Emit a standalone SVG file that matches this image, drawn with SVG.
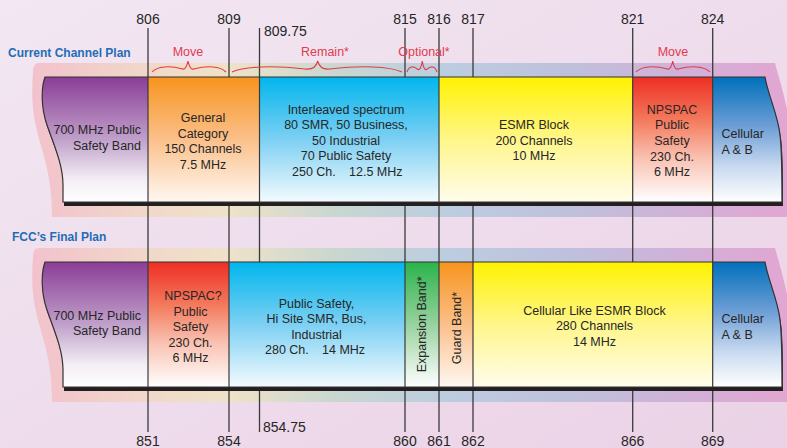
<svg xmlns="http://www.w3.org/2000/svg" xmlns:xlink="http://www.w3.org/1999/xlink" width="787" height="448" viewBox="0 0 787 448">
<style>
.t{font-family:"Liberation Sans",Arial,sans-serif;font-size:12.5px;fill:#262626}
.m{text-anchor:middle}
.e{text-anchor:end}
.num{font-family:"Liberation Sans",Arial,sans-serif;font-size:14px;fill:#262626}
.plan{font-family:"Liberation Sans",Arial,sans-serif;font-size:12px;font-weight:bold;fill:#1f6db5}
.red{font-family:"Liberation Sans",Arial,sans-serif;font-size:12.5px;fill:#e23a4f;text-anchor:middle}
.brace{fill:none;stroke:#e23a4b;stroke-width:1.1}
.tick{stroke:#3a3a3a;stroke-width:1.3}
.div{stroke:#3a3a3a;stroke-width:1.2}
.outline{fill:none;stroke:#333;stroke-width:1.2}
.shadow{fill:#231f20}
</style>
<defs>
<linearGradient id="bg" x1="0" y1="0" x2="1" y2="1">
<stop offset="0" stop-color="#f2e7f2"/><stop offset="1" stop-color="#ebd2e6"/>
</linearGradient>
<linearGradient id="halo" gradientUnits="userSpaceOnUse" x1="33" y1="0" x2="787" y2="0">
<stop offset="0" stop-color="#f2c2cc"/>
<stop offset="0.16" stop-color="#f1d9c9"/>
<stop offset="0.26" stop-color="#efe2c8"/>
<stop offset="0.4" stop-color="#c9d7d0"/>
<stop offset="0.55" stop-color="#bccde0"/>
<stop offset="0.72" stop-color="#bfc0dc"/>
<stop offset="0.85" stop-color="#cfb2d8"/>
<stop offset="1" stop-color="#e2a6d2"/>
</linearGradient>
<linearGradient id="gPurple" x1="0" y1="0" x2="0" y2="1"><stop offset="0" stop-color="#8b3d96"/><stop offset="0.5" stop-color="#c0a0ca"/><stop offset="0.82" stop-color="#f3eef4"/><stop offset="1" stop-color="#fff"/></linearGradient>
<linearGradient id="gOrange" x1="0" y1="0" x2="0" y2="1"><stop offset="0" stop-color="#f7941d"/><stop offset="0.5" stop-color="#fbc08a"/><stop offset="1" stop-color="#fff8f2"/></linearGradient>
<linearGradient id="gBlue" x1="0" y1="0" x2="0" y2="1"><stop offset="0" stop-color="#00b6ed"/><stop offset="0.5" stop-color="#7dd0f3"/><stop offset="1" stop-color="#f4fbfe"/></linearGradient>
<linearGradient id="gYellow" x1="0" y1="0" x2="0" y2="1"><stop offset="0" stop-color="#fff200"/><stop offset="0.5" stop-color="#fff68a"/><stop offset="1" stop-color="#fffcec"/></linearGradient>
<linearGradient id="gRed" x1="0" y1="0" x2="0" y2="1"><stop offset="0" stop-color="#ee2e24"/><stop offset="0.35" stop-color="#f47b5e"/><stop offset="0.65" stop-color="#f9c2b2"/><stop offset="1" stop-color="#fff"/></linearGradient>
<linearGradient id="gCell" x1="0" y1="0" x2="0" y2="1"><stop offset="0" stop-color="#0070bb"/><stop offset="0.4" stop-color="#6f9fd6"/><stop offset="0.72" stop-color="#c9daf0"/><stop offset="1" stop-color="#fff"/></linearGradient>
<linearGradient id="gGreen" x1="0" y1="0" x2="0" y2="1"><stop offset="0" stop-color="#2bb34b"/><stop offset="0.5" stop-color="#98d29f"/><stop offset="1" stop-color="#fff"/></linearGradient>
<path id="bandShape" d="M45,77 L765,77 C768,95 778,115 780,135 C782,150 782,170 782,202 L63,202 L63,185 C63,165 54,145 47,125 C41,108 41,88 45,77 Z"/>
<path id="haloShape" d="M39,63 L775,63 C778,75 785,95 790,125 L790,217 L52,217 C52,180 45,160 38,135 C33,115 31,100 33,72 Q33,63 39,63 Z"/>
<path id="purpleShape" d="M45,77 L148,77 L148,202 L63,202 L63,185 C63,165 54,145 47,125 C41,108 41,88 45,77 Z"/>
<path id="cellShape" d="M712.7,77 L765,77 C768,95 778,115 780,135 C782,150 782,170 782,202 L712.7,202 Z"/>
</defs>

<rect x="0" y="0" width="787" height="448" fill="url(#bg)"/>

<g id="halos">
<use href="#haloShape" fill="url(#halo)"/>
<use href="#haloShape" fill="url(#halo)" transform="translate(0,185)"/>
</g>

<g id="connectors">
<line class="tick" x1="148" y1="28" x2="148" y2="432"/>
<line class="tick" x1="229" y1="28" x2="229" y2="432"/>
<line class="tick" x1="259.5" y1="28" x2="259.5" y2="432"/>
<line class="tick" x1="405" y1="28" x2="405" y2="432"/>
<line class="tick" x1="439" y1="28" x2="439" y2="432"/>
<line class="tick" x1="473" y1="28" x2="473" y2="432"/>
<line class="tick" x1="632.7" y1="28" x2="632.7" y2="432"/>
<line class="tick" x1="712.7" y1="28" x2="712.7" y2="432"/>
</g>

<g id="current-plan">
<use href="#bandShape" class="shadow" transform="translate(1,4)"/>
<g id="c-700"><use href="#purpleShape" fill="url(#gPurple)"/>
<text class="t e" x="141" y="134">700 MHz Public</text><text class="t e" x="141" y="149.5">Safety Band</text></g>
<g id="c-general"><rect x="148" y="77" width="111.5" height="125" fill="url(#gOrange)"/>
<text class="t m" x="203" y="121.5">General</text><text class="t m" x="203" y="137.5">Category</text><text class="t m" x="203" y="153">150 Channels</text><text class="t m" x="203" y="168.5">7.5 MHz</text></g>
<g id="c-interleaved"><rect x="259.5" y="77" width="179.5" height="125" fill="url(#gBlue)"/>
<text class="t m" x="346" y="113.5">Interleaved spectrum</text><text class="t m" x="346" y="129">80 SMR, 50 Business,</text><text class="t m" x="346" y="144.5">50 Industrial</text><text class="t m" x="346" y="160">70 Public Safety</text><text class="t" x="292" y="175.5">250 Ch.<tspan x="349">12.5 MHz</tspan></text></g>
<g id="c-esmr"><rect x="439" y="77" width="193.7" height="125" fill="url(#gYellow)"/>
<text class="t m" x="534" y="128.5">ESMR Block</text><text class="t m" x="534" y="144.5">200 Channels</text><text class="t m" x="534" y="160">10 MHz</text></g>
<g id="c-npspac"><rect x="632.7" y="77" width="80" height="125" fill="url(#gRed)"/>
<text class="t m" x="672" y="113.5">NPSPAC</text><text class="t m" x="672" y="129">Public</text><text class="t m" x="672" y="145">Safety</text><text class="t m" x="672" y="160.5">230 Ch.</text><text class="t m" x="672" y="176">6 MHz</text></g>
<g id="c-cellular"><use href="#cellShape" fill="url(#gCell)"/>
<text class="t" x="721.5" y="137.5">Cellular</text><text class="t" x="721.5" y="153.5">A &amp; B</text></g>
<use href="#bandShape" class="outline"/>
<line class="div" x1="148" y1="77" x2="148" y2="202"/>
<line class="div" x1="259.5" y1="77" x2="259.5" y2="202"/>
<line class="div" x1="439" y1="77" x2="439" y2="202"/>
<line class="div" x1="632.7" y1="77" x2="632.7" y2="202"/>
<line class="div" x1="712.7" y1="77" x2="712.7" y2="202"/>
</g>

<g id="final-plan">
<use href="#bandShape" class="shadow" transform="translate(1,189)"/>
<g id="f-700"><use href="#purpleShape" fill="url(#gPurple)" transform="translate(0,185)"/>
<text class="t e" x="141" y="319.5">700 MHz Public</text><text class="t e" x="141" y="335">Safety Band</text></g>
<g id="f-npspac"><rect x="148" y="262" width="81" height="125" fill="url(#gRed)"/>
<text class="t m" x="193" y="300">NPSPAC?</text><text class="t m" x="190.5" y="315.5">Public</text><text class="t m" x="190.5" y="331">Safety</text><text class="t m" x="190.5" y="346.5">230 Ch.</text><text class="t m" x="190.5" y="361.5">6 MHz</text></g>
<g id="f-public"><rect x="229" y="262" width="176" height="125" fill="url(#gBlue)"/>
<text class="t m" x="316.5" y="307.5">Public Safety,</text><text class="t m" x="316.5" y="323">Hi Site SMR, Bus,</text><text class="t m" x="316.5" y="338.5">Industrial</text><text class="t" x="265" y="353.5">280 Ch.<tspan x="322">14 MHz</tspan></text></g>
<g id="f-expansion"><rect x="405" y="262" width="34" height="125" fill="url(#gGreen)"/>
<text class="t m" transform="translate(426,324.4) rotate(-90)">Expansion Band*</text></g>
<g id="f-guard"><rect x="439" y="262" width="34" height="125" fill="url(#gOrange)"/>
<text class="t m" transform="translate(461,328) rotate(-90)">Guard Band*</text></g>
<g id="f-esmr"><rect x="473" y="262" width="239.7" height="125" fill="url(#gYellow)"/>
<text class="t m" x="594.5" y="314.5">Cellular Like ESMR Block</text><text class="t m" x="594.5" y="330">280 Channels</text><text class="t m" x="594.5" y="346">14 MHz</text></g>
<g id="f-cellular"><use href="#cellShape" fill="url(#gCell)" transform="translate(0,185)"/>
<text class="t" x="721.5" y="322.7">Cellular</text><text class="t" x="721.5" y="338.5">A &amp; B</text></g>
<use href="#bandShape" class="outline" transform="translate(0,185)"/>
<line class="div" x1="148" y1="262" x2="148" y2="387"/>
<line class="div" x1="229" y1="262" x2="229" y2="387"/>
<line class="div" x1="405" y1="262" x2="405" y2="387"/>
<line class="div" x1="439" y1="262" x2="439" y2="387"/>
<line class="div" x1="473" y1="262" x2="473" y2="387"/>
<line class="div" x1="712.7" y1="262" x2="712.7" y2="387"/>
</g>

<g id="braces">
<path class="brace" d="M152,72 C157.4,66 170,65.5 182.6,69 C185,70 187,66 188,61 C189,66 191,70 193.7,69 C207,65.5 220.3,66 226,72"/>
<path class="brace" d="M232,72 C245,66 275,65.5 305,69 C313,70 316.5,66 317.7,61 C319,66 322,70 330,69 C360,65.5 389,66 402,72"/>
<path class="brace" d="M407,72 C409,66 413,65.5 418,69.5 C420,70.5 421.5,66 422.3,61 C423,66 424.5,70.5 426.5,69.5 C431.5,65.5 435,66 437,72"/>
<path class="brace" d="M636,72 C641.5,66 654,65.5 667.5,69 C670,70 671.7,66 672.7,61 C673.7,66 675.5,70 678,69 C691,65.5 704.5,66 710,72"/>
</g>

<g id="labels">
<text class="plan" x="8" y="56.5">Current Channel Plan</text>
<text class="plan" x="12" y="240.5">FCC’s Final Plan</text>
<text class="red" x="188" y="56">Move</text>
<text class="red" x="325" y="56">Remain*</text>
<text class="red" x="424" y="56">Optional*</text>
<text class="red" x="673" y="56">Move</text>
<text class="num m" x="148" y="24">806</text>
<text class="num m" x="229" y="24">809</text>
<text class="num" x="264" y="36">809.75</text>
<text class="num m" x="405" y="24">815</text>
<text class="num m" x="439" y="24">816</text>
<text class="num m" x="473" y="24">817</text>
<text class="num m" x="632.7" y="24">821</text>
<text class="num m" x="712.7" y="24">824</text>
<text class="num m" x="148" y="446">851</text>
<text class="num m" x="229" y="446">854</text>
<text class="num" x="263" y="432">854.75</text>
<text class="num m" x="405" y="446">860</text>
<text class="num m" x="439" y="446">861</text>
<text class="num m" x="473" y="446">862</text>
<text class="num m" x="632.7" y="446">866</text>
<text class="num m" x="712.7" y="446">869</text>
</g>
</svg>
